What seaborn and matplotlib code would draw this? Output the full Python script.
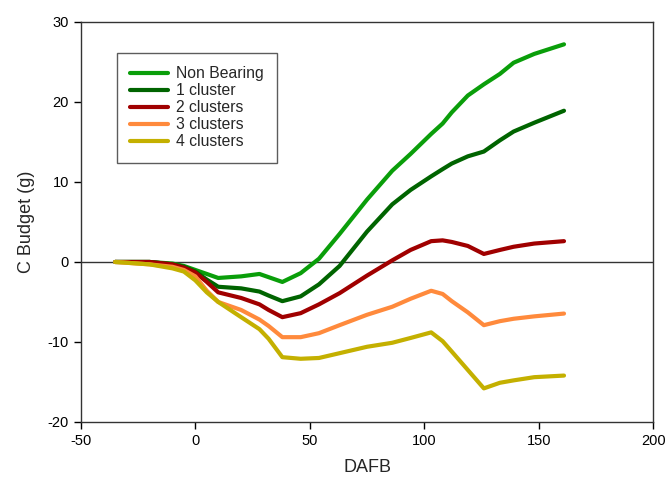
import numpy as np
import pandas as pd
import matplotlib
matplotlib.use("Agg")
import matplotlib.pyplot as plt
import seaborn as sns

dafb = [-35, -20, -10, -5, 0, 5, 10, 20, 28, 32, 38, 46, 54, 63, 75, 86, 94,
        103, 108, 112, 119, 126, 133, 139, 148, 161]

non_bearing = [0, 0, -0.2, -0.5, -1.0, -1.5, -2.0, -1.8, -1.5, -1.9, -2.5, -1.4,
               0.4, 3.5, 7.8, 11.4, 13.5, 16.0, 17.3, 18.7, 20.8, 22.2, 23.5,
               24.9, 26.0, 27.2]
one_cluster = [0, 0, -0.3, -0.6, -1.2, -2.2, -3.1, -3.3, -3.7, -4.2, -4.9, -4.3,
               -2.8, -0.5, 3.8, 7.2, 9.0, 10.7, 11.6, 12.3, 13.2, 13.8, 15.2,
               16.3, 17.4, 18.9]
two_clusters = [0, 0, -0.3, -0.7, -1.3, -2.5, -3.8, -4.5, -5.3, -6.0, -6.9, -6.4,
                -5.3, -3.9, -1.7, 0.2, 1.5, 2.6, 2.7, 2.5, 2.0, 1.0, 1.5, 1.9,
                2.3, 2.6]
three_clusters = [0, -0.3, -0.6, -1.0, -1.8, -3.6, -5.0, -6.0, -7.2, -8.0, -9.4,
                  -9.4, -8.9, -7.9, -6.6, -5.6, -4.6, -3.6, -4.0, -4.9, -6.3,
                  -7.9, -7.4, -7.1, -6.8, -6.45]
four_clusters = [0, -0.3, -0.8, -1.2, -2.3, -3.8, -5.0, -6.9, -8.4, -9.6, -11.9,
                 -12.1, -12.0, -11.4, -10.6, -10.1, -9.5, -8.8, -9.9, -11.2,
                 -13.5, -15.8, -15.1, -14.8, -14.4, -14.2]

series_names = ["Non Bearing", "1 cluster", "2 clusters", "3 clusters", "4 clusters"]
series_values = [non_bearing, one_cluster, two_clusters, three_clusters, four_clusters]
colors = ["#0A9E0A", "#006400", "#A00000", "#FF8A3C", "#C4B000"]

x_ticks = [-50, 0, 50, 100, 150, 200]
y_ticks = [-20, -10, 0, 10, 20, 30]

rows = []
for name, vals in zip(series_names, series_values):
    for x, y in zip(dafb, vals):
        rows.append({"DAFB": x, "C Budget (g)": y, "Treatment": name})
df = pd.DataFrame(rows)

sns.set_style("ticks")
plt.rcParams["font.family"] = ["Liberation Sans", "DejaVu Sans"]

fig = plt.figure(figsize=(6.68, 4.87), dpi=100)
ax = fig.add_axes([0.121, 0.1335, 0.857, 0.8215])

ax.axhline(0, color="#333333", lw=1.0, zorder=1)
sns.lineplot(data=df, x="DAFB", y="C Budget (g)", hue="Treatment",
             hue_order=series_names, palette=colors, linewidth=3.0,
             ax=ax, zorder=3)

ax.set_xlim(-50, 200)
ax.set_ylim(-20, 30)
ax.set_xticks(x_ticks)
ax.set_yticks(y_ticks)
ax.set_xticklabels([str(t) for t in x_ticks])
ax.set_yticklabels([str(t) for t in y_ticks])
ax.tick_params(direction="out", length=5, width=1, labelsize=10.5, colors="black")
for s in ax.spines.values():
    s.set_color("#333333")
    s.set_linewidth(1.0)

ax.set_xlabel("DAFB", fontsize=13, labelpad=8)
ax.set_ylabel("C Budget (g)", fontsize=13, labelpad=9)

leg = ax.legend(loc="upper left", bbox_to_anchor=(0.063, 0.923), borderaxespad=0,
                frameon=True, fancybox=False, fontsize=11.3, handlelength=2.4,
                labelspacing=0.13, borderpad=0.85, handletextpad=0.5)
leg.get_frame().set_edgecolor("#333333")
leg.get_frame().set_linewidth(1.0)
for line in leg.get_lines():
    line.set_linewidth(3.0)

fig.savefig("out.png", dpi=100)
